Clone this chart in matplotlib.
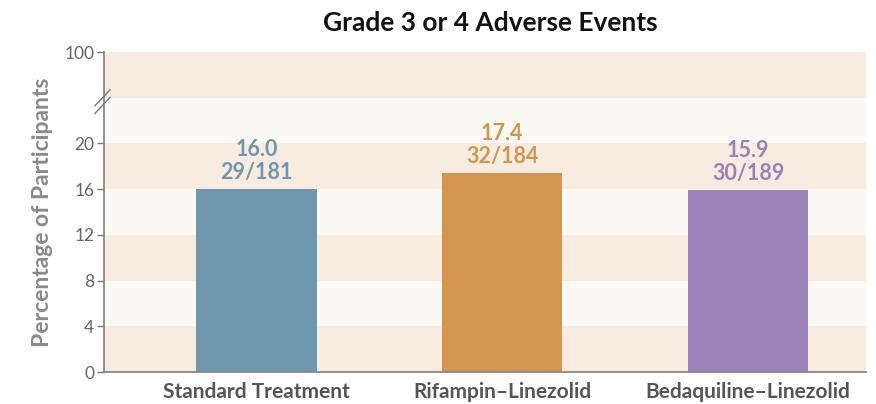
import matplotlib
matplotlib.use('Agg')
import matplotlib.pyplot as plt
import numpy as np

plt.rcParams['font.family'] = ['Lato', 'DejaVu Sans']

# data
groups = ['Standard Treatment', 'Rifampin\u2013Linezolid', 'Bedaquiline\u2013Linezolid']
pct = [16.0, 17.4, 15.9]
counts = ['29/181', '32/184', '30/189']
colors = ['#6f97ad', '#d4964e', '#9b82b8']
ytick_vals = [0, 4, 8, 12, 16, 20, 28]
ytick_labels = ['0', '4', '8', '12', '16', '20', '100']

fig = plt.figure(figsize=(8.76, 4.04), dpi=100)
ax = fig.add_axes([0.1187, 0.0792, 0.87, 0.792])

# striped background
band_dark = '#f8ece1'
band_light = '#fcf8f4'
for i, lo in enumerate(range(0, 28, 4)):
    ax.axhspan(lo, lo + 4, color=band_dark if i % 2 == 0 else band_light, zorder=0, lw=0)

x = np.arange(len(groups))
ax.bar(x, pct, width=0.49, color=colors, zorder=2)

for xi, v, c, col in zip(x, pct, counts, colors):
    ax.text(xi, v + 0.55, f'{v:.1f}\n{c}', ha='center', va='bottom', color=col,
            fontsize=15.5, fontweight='bold', linespacing=1.1)

ax.set_xlim(-0.62, 2.48)
ax.set_ylim(0, 28)
ax.set_yticks(ytick_vals)
ax.set_yticklabels(ytick_labels)
ax.set_xticks(x)
ax.set_xticklabels(groups, fontsize=15, fontweight='bold', color='#555555')
ax.tick_params(axis='x', length=0, pad=7)
ax.tick_params(axis='y', length=5, width=1, color='#777777', labelcolor='#666666',
               labelsize=12.5, pad=2)

for s in ['top', 'right']:
    ax.spines[s].set_visible(False)
for s in ['left', 'bottom']:
    ax.spines[s].set_color('#888888')
    ax.spines[s].set_linewidth(1.3)

# axis break marks
for dy in (-0.012, 0.012):
    ax.plot([-0.012, 0.008], [0.845 + dy - 0.025, 0.845 + dy + 0.025], transform=ax.transAxes,
            color='#777777', lw=1, clip_on=False, zorder=5)

ax.set_ylabel('Percentage of Participants', fontsize=16.5, fontweight='bold',
              color='#8a8a8a', labelpad=8)
fig.text(0.56, 0.943, 'Grade 3 or 4 Adverse Events', ha='center', va='center',
         fontsize=19, fontweight='bold', color='#111111')

plt.savefig('out.png', dpi=100)
plt.close()
